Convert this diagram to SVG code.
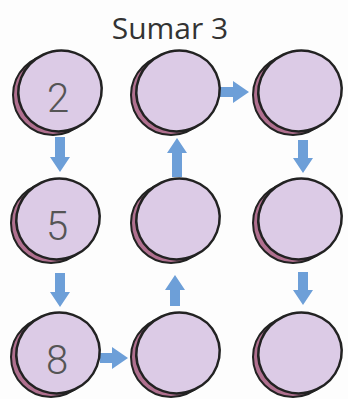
<svg xmlns="http://www.w3.org/2000/svg" width="348" height="399" viewBox="0 0 348 399">
<defs>
<style>
.sh{fill:#b0708f;stroke:#222;stroke-width:2}
.mn{fill:#dccbe6;stroke:#222;stroke-width:2.5}
.ar{fill:#6d9fd8}
.num{font-family:Roboto,"Open Sans","Liberation Sans",sans-serif;font-weight:300;font-size:40px;fill:#555;text-anchor:middle}
.ttl{font-family:"Open Sans","Liberation Sans",sans-serif;font-size:30px;fill:#333;text-anchor:middle}
</style>
<g id="disc">
<ellipse class="sh" cx="-5" cy="3" rx="40" ry="40"/>
<ellipse class="mn" cx="2" cy="-1" rx="42" ry="40" transform="rotate(-25 2 -1)"/>
</g>
</defs>
<rect width="348" height="399" fill="#fdfdfd"/>
<text class="ttl" x="170" y="39">Sumar 3</text>
<g id="connectors">
<polygon class="ar" points="55,137 65,137 65,157 70,157 60,172 50,157 55,157"/>
<polygon class="ar" points="298,140 308,140 308,158 313,158 303,173 293,158 298,158"/>
<polygon class="ar" points="172,177 182,177 182,153 187,153 177,138 167,153 172,153"/>
<polygon class="ar" points="220,87 233,87 233,81 249,92 233,103 233,97 220,97"/>
<polygon class="ar" points="55,273 65,273 65,292 70,292 60,307 50,292 55,292"/>
<polygon class="ar" points="170,306 180,306 180,290 185,290 175,275 165,290 170,290"/>
<polygon class="ar" points="298,272 308,272 308,290 313,290 303,305 293,290 298,290"/>
<polygon class="ar" points="100,353 112,353 112,347 128,358 112,369 112,363 100,363"/>
</g>
<g id="n1" transform="translate(58,92)"><use href="#disc"/><text class="num" x="0" y="20">2</text></g>
<g id="n2" transform="translate(176,92)"><use href="#disc"/></g>
<g id="n3" transform="translate(298,92)"><use href="#disc"/></g>
<g id="n4" transform="translate(56,220)"><use href="#disc"/><text class="num" x="1" y="20">5</text></g>
<g id="n5" transform="translate(176,220)"><use href="#disc"/></g>
<g id="n6" transform="translate(298,220)"><use href="#disc"/></g>
<g id="n7" transform="translate(56,354)"><use href="#disc"/><text class="num" x="1" y="20">8</text></g>
<g id="n8" transform="translate(176,354)"><use href="#disc"/></g>
<g id="n9" transform="translate(298,354)"><use href="#disc"/></g>
</svg>
